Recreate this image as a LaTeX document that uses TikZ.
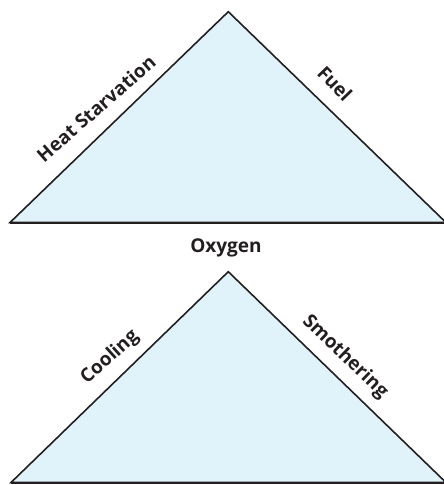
\documentclass[tikz,border=0pt]{standalone}
\usepackage{fontspec}
\setmainfont{Open Sans}
\definecolor{triFill}{HTML}{E0F3FB}
\definecolor{ink}{HTML}{231F20}
\tikzset{
  tri/.style={fill=triFill, draw=ink, line width=1.6pt, line join=miter},
  base/.style={draw=ink, line width=2pt},
  lbl/.style={inner sep=0pt, text=ink, font=\fontsize{19}{21}\selectfont\bfseries}
}
\begin{document}
\begin{tikzpicture}[x=1pt, y=-1pt]
\useasboundingbox (0,0) rectangle (444,485);
% top triangle
\coordinate (tL) at (10,222.5);
\coordinate (tA) at (228.3,11.7);
\coordinate (tR) at (446,222.5);
\filldraw[tri] (tL) -- (tA) -- (tR) -- cycle;
\draw[base] (tL) -- (tR);
% bottom triangle
\coordinate (bL) at (11,482.5);
\coordinate (bA) at (228.3,271.7);
\coordinate (bR) at (446,482.5);
\filldraw[tri] (bL) -- (bA) -- (bR) -- cycle;
\draw[base] (bL) -- (bR);
% labels
\node[lbl, rotate=41] (heat) at (96,108.5) {Heat Starvation};
\node[lbl, rotate=-46] (fuel) at (335,83.5) {Fuel};
\node[lbl, anchor=base] (oxy) at (226,252) {Oxygen};
\node[lbl, rotate=42] (cool) at (110,357.5) {Cooling};
\node[lbl, rotate=-44] (smoth) at (345,357) {Smothering};
\end{tikzpicture}
\end{document}
